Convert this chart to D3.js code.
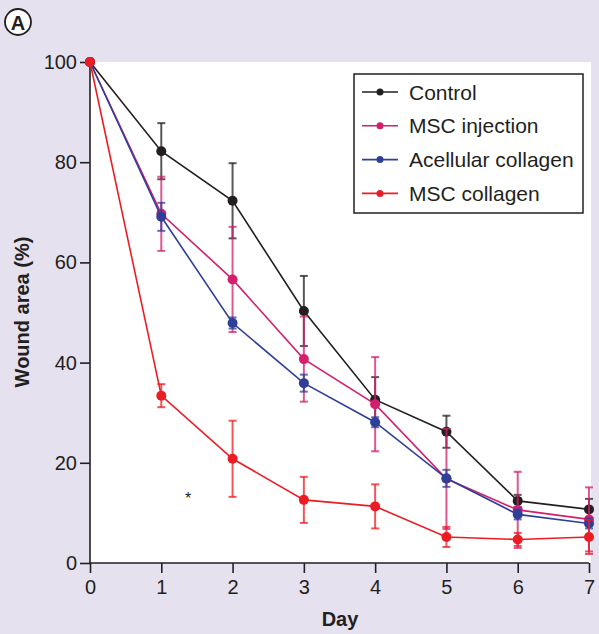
<!DOCTYPE html>
<html><head><meta charset="utf-8">
<script src="https://cdn.jsdelivr.net/npm/d3@7"></script>
<style>html,body{margin:0;padding:0;background:#e6e1ef;}svg{display:block;font-family:"Liberation Sans",Arial,sans-serif;}</style>
</head><body>
<script>
const days = [0,1,2,3,4,5,6,7];
const seriesNames = ["Control","MSC injection","Acellular collagen","MSC collagen"];
const seriesColors = ["#231f20","#d41f6c","#2f3f99","#ec1c24"];
const controlMean = [100,82.2,72.3,50.3,32.6,26.2,12.4,10.7];
const controlErr  = [0,5.6,7.5,7.0,4.5,3.2,1.2,2.1];
const injMean = [100,69.7,56.6,40.7,31.7,16.8,10.6,8.7];
const injErr  = [0,7.4,10.5,8.5,9.4,10.0,7.6,6.4];
const acelMean = [100,69.1,47.9,35.9,28.1,16.9,9.7,7.9];
const acelErr  = [0,2.8,1.1,1.7,1.0,1.7,1.0,1.0];
const colMean = [100,33.4,20.8,12.6,11.3,5.2,4.7,5.2];
const colErr  = [0,2.3,7.6,4.6,4.4,2.0,1.3,3.4];
const yTicks = [0,20,40,60,80,100];
const means = [controlMean,injMean,acelMean,colMean];
const errs = [controlErr,injErr,acelErr,colErr];

const W=599,H=634;
const svg=d3.select("body").append("svg").attr("width",W).attr("height",H);
svg.append("rect").attr("width",W).attr("height",H).attr("fill","#e6e1ef");
const x=d3.scaleLinear().domain([0,7]).range([90,589]);
const y=d3.scaleLinear().domain([0,100]).range([563,62]);
svg.append("rect").attr("x",90).attr("y",62).attr("width",501).attr("height",501).attr("fill","#fff");

// axes
const xAx=svg.append("g").attr("transform","translate(0,563)").call(d3.axisBottom(x).tickValues(days).tickSize(10).tickPadding(7).tickFormat(d3.format("d")));
const yAx=svg.append("g").attr("transform","translate(90,0)").call(d3.axisLeft(y).tickValues(yTicks).tickSize(10).tickPadding(3));
[xAx,yAx].forEach(a=>{a.selectAll("path,line").attr("stroke","#231f20").attr("stroke-width",1.6);
  a.selectAll("text").attr("font-size",20).attr("fill","#231f20").attr("font-family","Liberation Sans, Arial, sans-serif");});
xAx.select(".domain").attr("d","M90,0H589");
yAx.select(".domain").attr("d","M0,563V62");

svg.append("text").attr("x",340).attr("y",626).attr("text-anchor","middle").attr("font-weight","bold").attr("font-size",20).attr("fill","#231f20").text("Day");
svg.append("text").attr("transform","translate(29,312) rotate(-90)").attr("text-anchor","middle").attr("font-weight","bold").attr("font-size",20).attr("fill","#231f20").text("Wound area (%)");

// circled A
svg.append("circle").attr("cx",18).attr("cy",22).attr("r",13).attr("fill","#fff").attr("stroke","#231f20").attr("stroke-width",1.8);
svg.append("text").attr("x",18).attr("y",29.5).attr("text-anchor","middle").attr("font-weight","bold").attr("font-size",20).attr("fill","#231f20").text("A");

const line=d3.line().x((d,i)=>x(days[i])).y(d=>y(d));
means.forEach((m,s)=>{
  const g=svg.append("g");
  const c=seriesColors[s];
  m.forEach((v,i)=>{
    const e=errs[s][i]; if(!e) return;
    const eg=g.append("g").attr("stroke",c).attr("stroke-opacity",0.75).attr("stroke-width",2);
    eg.append("line").attr("x1",x(days[i])).attr("x2",x(days[i])).attr("y1",y(v+e)).attr("y2",y(v-e));
    eg.append("line").attr("x1",x(days[i])-4).attr("x2",x(days[i])+4).attr("y1",y(v+e)).attr("y2",y(v+e));
    eg.append("line").attr("x1",x(days[i])-4).attr("x2",x(days[i])+4).attr("y1",y(v-e)).attr("y2",y(v-e));
  });
  g.append("path").attr("d",line(m)).attr("fill","none").attr("stroke",c).attr("stroke-width",1.6);
  g.selectAll("circle").data(m).join("circle").attr("cx",(d,i)=>x(days[i])).attr("cy",d=>y(d)).attr("r",5).attr("fill",c);
});

// asterisk
svg.append("text").attr("x",188).attr("y",504).attr("text-anchor","middle").attr("font-size",16).attr("fill","#231f20").text("*");

// legend
const lg=svg.append("g");
lg.append("rect").attr("x",354).attr("y",74).attr("width",229).attr("height",139).attr("fill","#fff").attr("stroke","#231f20").attr("stroke-width",1.5);
seriesNames.forEach((n,i)=>{
  const yy=92+i*33.8;
  lg.append("line").attr("x1",362).attr("x2",398).attr("y1",yy).attr("y2",yy).attr("stroke",seriesColors[i]).attr("stroke-width",1.6);
  lg.append("circle").attr("cx",380).attr("cy",yy).attr("r",3.5).attr("fill",seriesColors[i]);
  lg.append("text").attr("x",409).attr("y",yy+7.5).attr("font-size",21).attr("fill","#231f20").text(n);
});
</script>
</body></html>
